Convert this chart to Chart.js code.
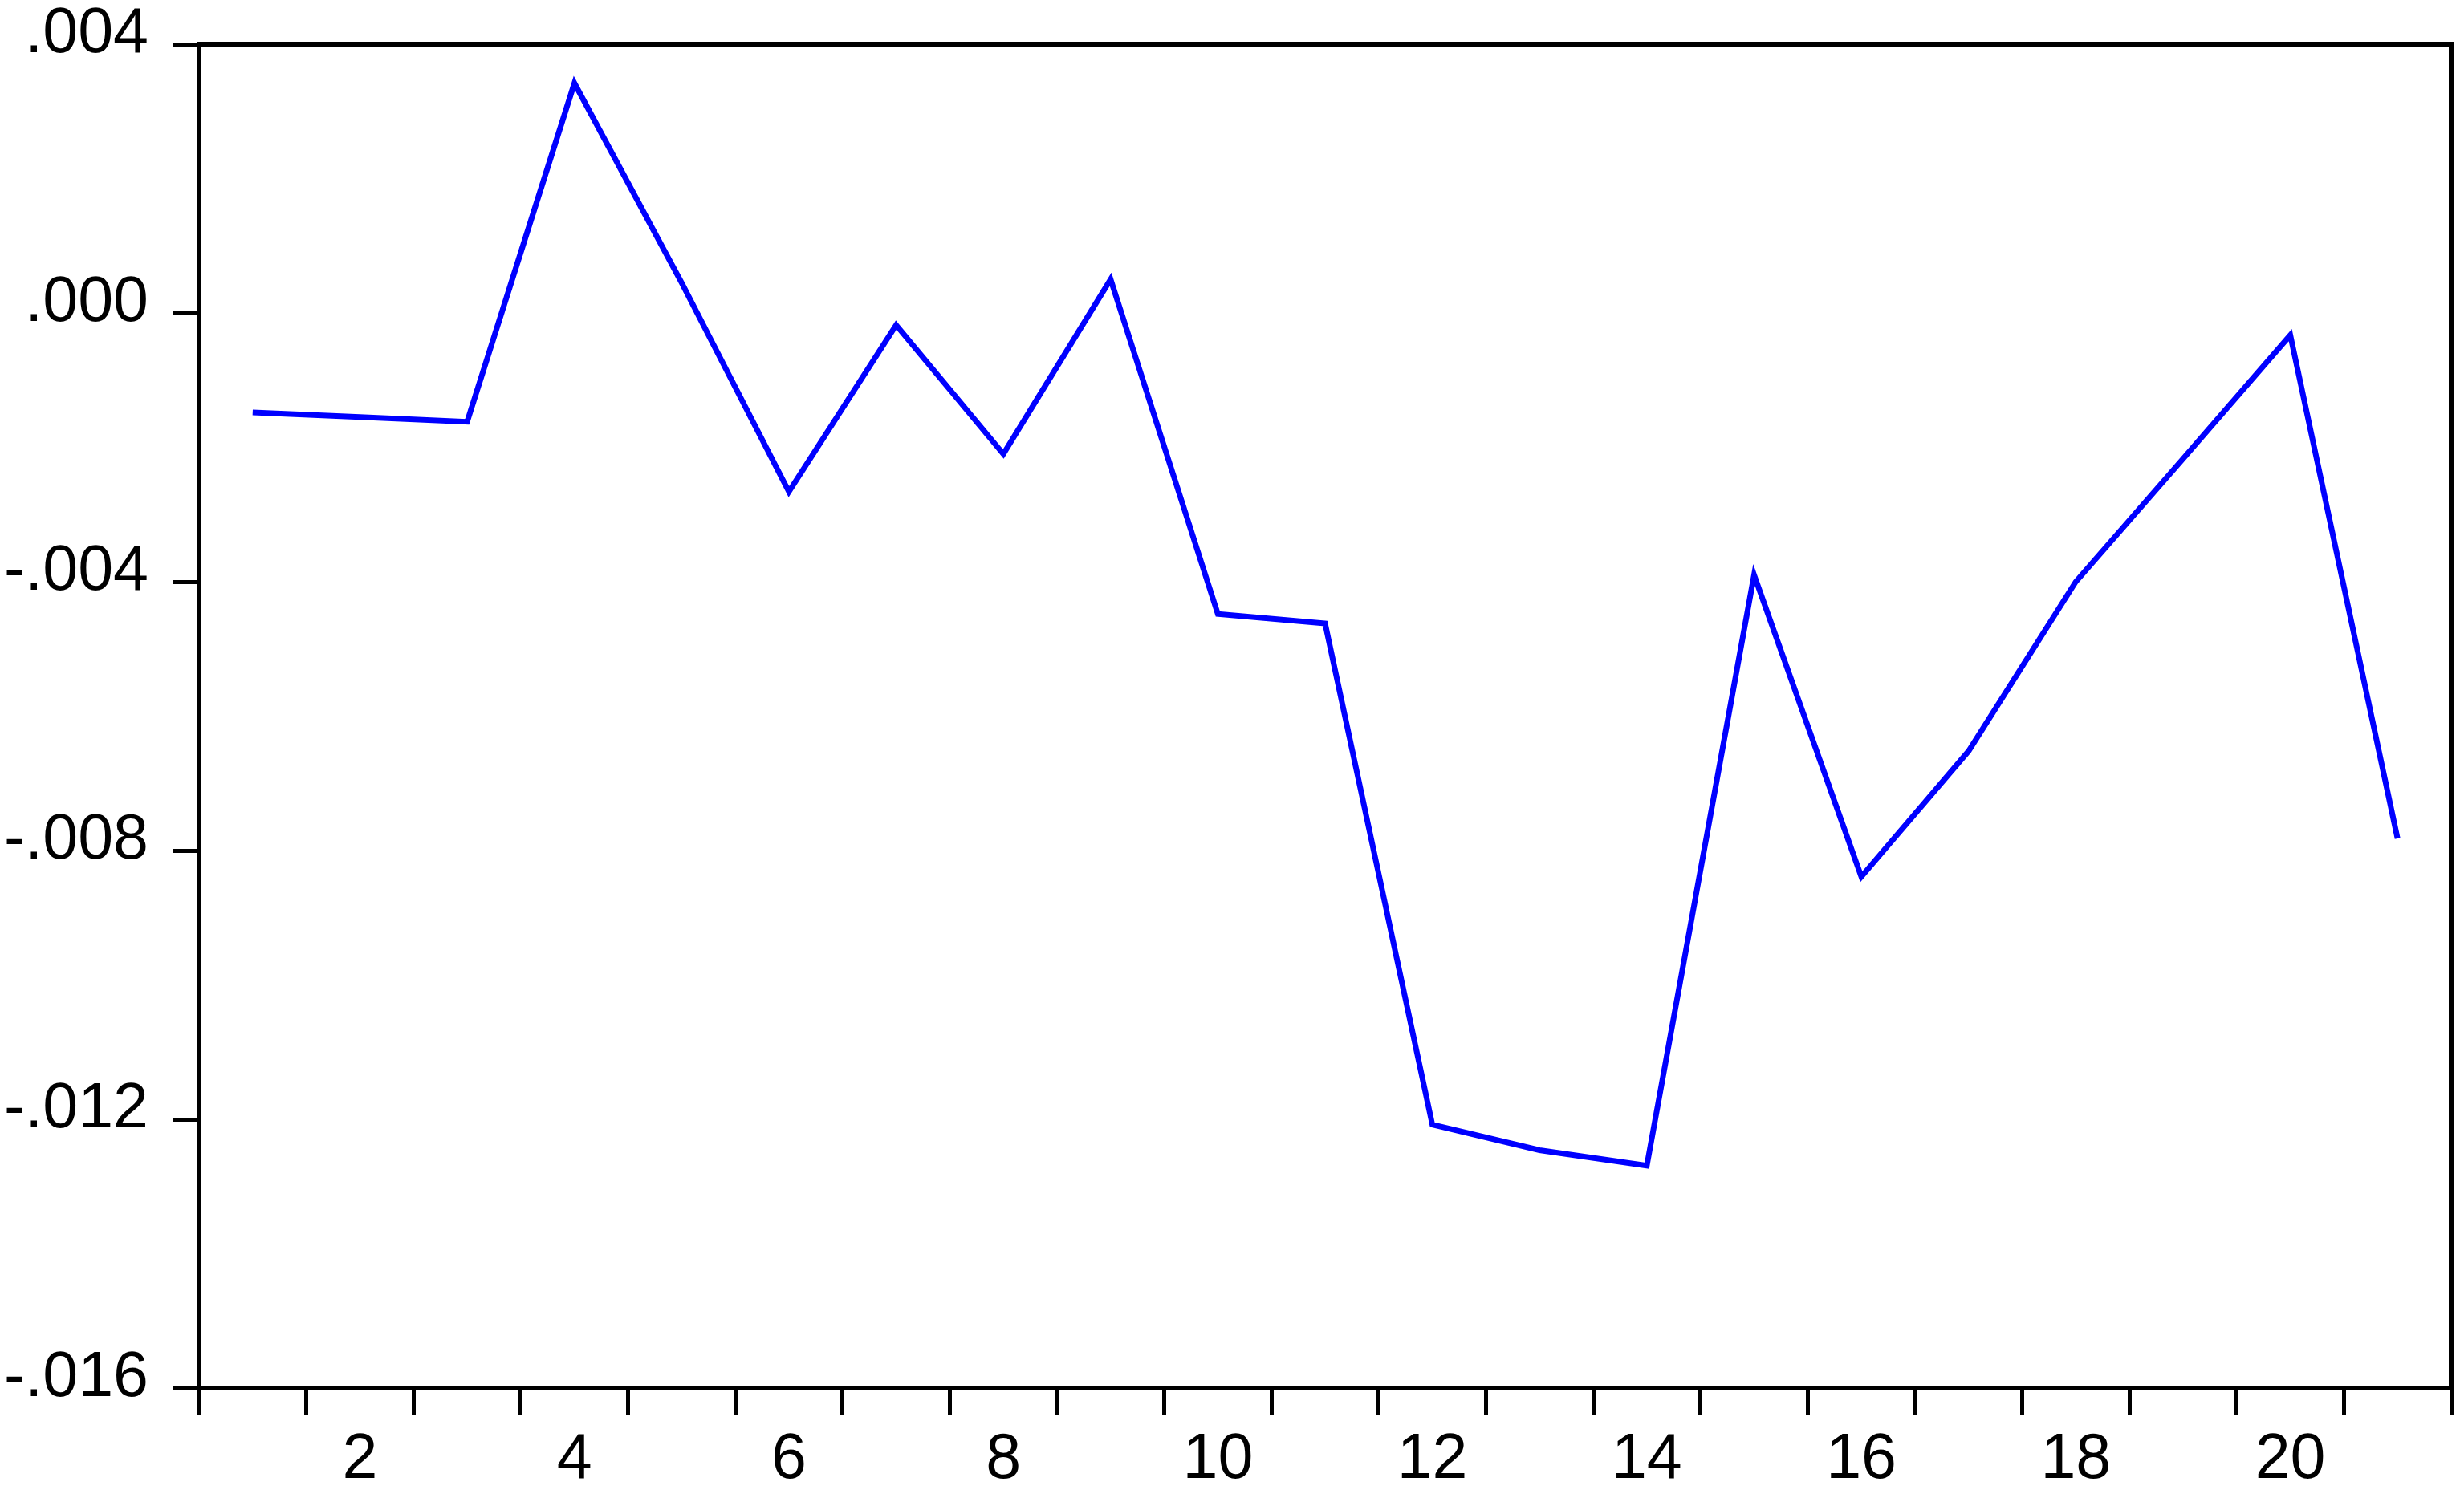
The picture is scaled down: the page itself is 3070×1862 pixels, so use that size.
<!DOCTYPE html>
<html>
<head>
<meta charset="utf-8">
<script src="https://cdn.jsdelivr.net/npm/chart.js@4.4.1/dist/chart.umd.min.js"></script>
<style>
    html, body { margin: 0; padding: 0; background: #ffffff; }
    canvas { display: block; }
</style>
</head>
<body>
<canvas id="chart" width="3070" height="1862"></canvas>
<script>
// observation numbers along the bottom
const categories = [ '1', '2', '3', '4', '5', '6', '7', '8', '9', '10', '11',
    '12', '13', '14', '15', '16', '17', '18', '19', '20', '21' ];

// series values
const seriesValues = [ -0.00148, -0.00155, -0.00162, 0.00342, 0.00045, -0.00266, -0.00018,
    -0.00210, 0.00050, -0.00448, -0.00462, -0.01208, -0.01246, -0.01269,
    -0.00390, -0.00839, -0.00652, -0.00400, -0.00217, -0.00033, -0.00782 ];

// left axis ticks
const yTickValues = [ -0.016, -0.012, -0.008, -0.004, 0.000, 0.004 ];

function fmtY( v )
{
    if ( Math.abs( v ) < 1e-9 ) v = 0;
    return v.toFixed( 3 ).replace( '0.', '.' );
}

// top and right edges of the frame
const frameBox = {
    id: 'frameBox',
    afterDraw( chart )
    {
        const a = chart.chartArea;
        const c = chart.ctx;
        c.save();
        c.strokeStyle = '#000000';
        c.lineWidth = 6;
        c.beginPath();
        c.moveTo( a.left - 3, a.top );
        c.lineTo( a.right, a.top );
        c.lineTo( a.right, a.bottom + 3 );
        c.stroke();
        c.restore();
    }
};

Chart.defaults.font.family = '"Liberation Sans", Arial, sans-serif';
Chart.defaults.color = '#000000';

new Chart( document.getElementById( 'chart' ), {
    type: 'line',
    data: {
        labels: categories,
        datasets: [ {
            data: seriesValues,
            borderColor: '#0000ff',
            borderWidth: 7,
            borderJoinStyle: 'miter',
            pointRadius: 0,
            tension: 0,
            fill: false
        } ]
    },
    options: {
        responsive: false,
        animation: false,
        layout: { padding: { top: 55, right: 16, left: 0, bottom: 0 } },
        plugins: {
            legend: { display: false },
            tooltip: { enabled: false }
        },
        scales: {
            x: {
                offset: true,
                grid: {
                    offset: true,
                    drawOnChartArea: false,
                    tickLength: 33,
                    lineWidth: 5,
                    color: '#000000'
                },
                border: { color: '#000000', width: 6 },
                ticks: {
                    autoSkip: false,
                    maxRotation: 0,
                    padding: 10,
                    font: { size: 79 },
                    callback: function ( val, i )
                    {
                        const n = Number( categories[ i ] );
                        return n % 2 === 0 ? categories[ i ] : '';
                    }
                },
                afterFit: function ( s )
                {
                    s.height = 132;
                    s.paddingLeft = 0;
                    s.paddingRight = 0;
                }
            },
            y: {
                min: -0.016,
                max: 0.004,
                afterBuildTicks: function ( s )
                {
                    s.ticks = yTickValues.map( v => ( { value: v } ) );
                },
                grid: {
                    drawOnChartArea: false,
                    tickLength: 33,
                    lineWidth: 5,
                    color: '#000000'
                },
                border: { color: '#000000', width: 6 },
                ticks: {
                    padding: 30,
                    labelOffset: -12,
                    font: { size: 79 },
                    callback: function ( v ) { return fmtY( v ); }
                },
                afterFit: function ( s )
                {
                    s.width = 248;
                    s.paddingTop = 0;
                    s.paddingBottom = 0;
                }
            }
        }
    },
    plugins: [ frameBox ]
} );
</script>
</body>
</html>
